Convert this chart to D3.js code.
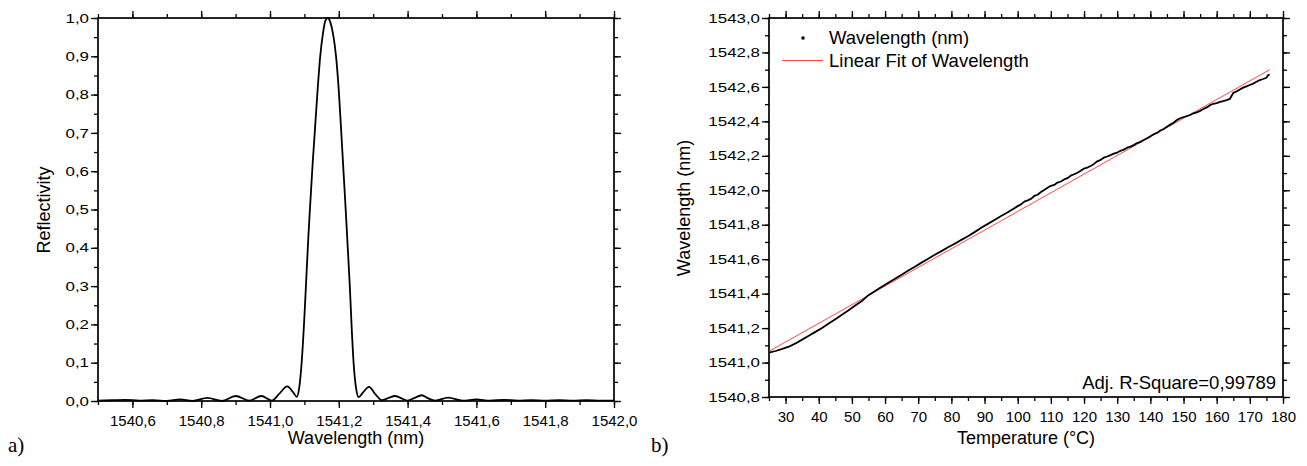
<!DOCTYPE html>
<html>
<head>
<meta charset="utf-8">
<script src="https://cdn.jsdelivr.net/npm/d3@7"></script>
<style>
  body { margin: 0; background: #fff; }
  text { font-family: Arial, "Liberation Sans", sans-serif; fill: #000; }
</style>
</head>
<body>
<script>
// ---- data: a) reflection spectrum ----
var specWl = [1540.50, 1540.54, 1540.58, 1540.62, 1540.66, 1540.70, 1540.738, 1540.775, 1540.818, 1540.86,
  1540.90, 1540.94, 1540.975, 1541.005, 1541.028, 1541.050, 1541.068, 1541.078, 1541.085, 1541.092,
  1541.100, 1541.105, 1541.111, 1541.116, 1541.124, 1541.130, 1541.139, 1541.146, 1541.154, 1541.161,
  1541.168, 1541.175, 1541.183, 1541.192, 1541.200, 1541.206, 1541.213, 1541.220, 1541.226, 1541.232,
  1541.237, 1541.243, 1541.250, 1541.258, 1541.270, 1541.288, 1541.306, 1541.325, 1541.345, 1541.363,
  1541.382, 1541.40, 1541.42, 1541.441, 1541.46, 1541.48, 1541.518, 1541.56, 1541.60, 1541.64,
  1541.68, 1541.72, 1541.76, 1541.80, 1541.84, 1541.88, 1541.92, 1541.96, 1542.00];
var specR = [0.001, 0.002, 0.003, 0.001, 0.002, 0.000, 0.004, 0.000, 0.008, 0.000,
  0.013, 0.001, 0.013, 0.001, 0.020, 0.038, 0.022, 0.011, 0.035, 0.10,
  0.22, 0.31, 0.42, 0.50, 0.62, 0.70, 0.82, 0.90, 0.96, 0.993,
  1.0, 0.99, 0.96, 0.90, 0.81, 0.72, 0.61, 0.50, 0.40, 0.30,
  0.20, 0.10, 0.035, 0.010, 0.022, 0.037, 0.018, 0.002, 0.008, 0.013,
  0.007, 0.001, 0.008, 0.015, 0.007, 0.001, 0.009, 0.001, 0.004, 0.001,
  0.003, 0.001, 0.002, 0.001, 0.002, 0.001, 0.002, 0.001, 0.001];

var aXTicks = [1540.6, 1540.8, 1541.0, 1541.2, 1541.4, 1541.6, 1541.8, 1542.0];
var aYTicks = [0.0, 0.1, 0.2, 0.3, 0.4, 0.5, 0.6, 0.7, 0.8, 0.9, 1.0];

// ---- data: b) peak wavelength vs temperature ----
var tempC = [25, 27, 29, 31, 33, 35, 37, 39, 41, 43, 45, 47, 49, 51, 53, 55, 57, 59, 61, 63,
  65, 67, 69, 71, 73, 75, 77, 79, 81, 83, 85, 87, 89, 91, 93, 95, 97, 99,
  100, 101, 102, 103, 104, 105, 106, 107, 108, 109, 110, 111, 112, 113, 114, 115, 116, 117, 118, 119,
  120, 121, 122, 123, 124, 125, 126, 127, 128, 129, 130, 131, 132, 133, 134, 135, 136, 137, 138, 139,
  140, 141, 142, 143, 144, 145, 146, 147, 148, 149, 150, 151, 152, 153, 154, 155, 156, 157, 158, 159,
  160, 161, 162, 163, 164, 165, 166, 167, 168, 169, 170, 171, 172, 173, 174, 175, 175.5, 176];
var peakWl = [1541.057, 1541.067, 1541.079, 1541.092, 1541.111, 1541.133, 1541.155, 1541.178, 1541.201, 1541.226,
  1541.252, 1541.278, 1541.304, 1541.331, 1541.357, 1541.391, 1541.415, 1541.440, 1541.463, 1541.487,
  1541.510, 1541.534, 1541.556, 1541.580, 1541.602, 1541.626, 1541.647, 1541.669, 1541.690, 1541.712,
  1541.733, 1541.757, 1541.782, 1541.805, 1541.828, 1541.851, 1541.872, 1541.896,
  1541.908, 1541.918, 1541.934, 1541.941, 1541.950, 1541.967, 1541.974, 1541.990, 1542.002, 1542.014,
  1542.026, 1542.031, 1542.045, 1542.051, 1542.063, 1542.070, 1542.085, 1542.093, 1542.102, 1542.113,
  1542.126, 1542.132, 1542.141, 1542.153, 1542.168, 1542.176, 1542.190, 1542.196, 1542.204, 1542.213,
  1542.219, 1542.229, 1542.236, 1542.247, 1542.253, 1542.262, 1542.274, 1542.281, 1542.292, 1542.302,
  1542.313, 1542.325, 1542.333, 1542.347, 1542.356, 1542.369, 1542.381, 1542.392, 1542.408, 1542.418,
  1542.424, 1542.431, 1542.437, 1542.447, 1542.452, 1542.461, 1542.472, 1542.481, 1542.494, 1542.502,
  1542.506, 1542.513, 1542.518, 1542.523, 1542.531, 1542.565, 1542.574, 1542.585, 1542.596, 1542.603,
  1542.611, 1542.619, 1542.630, 1542.640, 1542.646, 1542.653, 1542.668, 1542.672];

// linear fit end points
var fitT = [25, 176];
var fitWl = [1541.065, 1542.700];

var bXTicks = [30, 40, 50, 60, 70, 80, 90, 100, 110, 120, 130, 140, 150, 160, 170, 180];
var bYTicks = [1540.8, 1541.0, 1541.2, 1541.4, 1541.6, 1541.8, 1542.0, 1542.2, 1542.4, 1542.6, 1542.8, 1543.0];

// comma decimal like the original
var fmt1 = d3.formatLocale({decimal: ",", thousands: "", grouping: [3], currency: ["", ""]}).format(".1f");

var svg = d3.select("body").append("svg")
  .attr("width", 1307)
  .attr("height", 466);

svg.append("rect").attr("width", 1307).attr("height", 466).attr("fill", "#fff");

// draws the boxed frame with outward ticks on all four sides
function frame(x, y, xMaj, xMin, yMaj, yMin, xFmt, yFmt) {
  var x0 = x.range()[0], x1 = x.range()[1];
  var y0 = y.range()[1], y1 = y.range()[0];
  var g = svg.append("g");

  function ax(gen, vals, size, tx, ty, labels, fmt) {
    var a = g.append("g")
      .attr("transform", "translate(" + tx + "," + ty + ")")
      .call(gen.tickValues(vals).tickSize(size).tickSizeOuter(0).tickPadding(7)
        .tickFormat(labels ? fmt : ""));
    a.select(".domain").remove();
    a.selectAll("line").attr("stroke", "#000").attr("stroke-width", 1.3);
    return a;
  }

  ax(d3.axisBottom(x), xMin, 4, 0, y1, false);
  ax(d3.axisBottom(x), xMaj, 7, 0, y1, true, xFmt)
    .selectAll("text").style("font-size", "15px");
  ax(d3.axisTop(x), xMin, 4, 0, y0, false);
  ax(d3.axisTop(x), xMaj, 7, 0, y0, false);

  ax(d3.axisLeft(y), yMin, 4, x0, 0, false);
  ax(d3.axisLeft(y), yMaj, 7, x0, 0, true, yFmt)
    .selectAll("text")
      .style("font-size", "13px")
      .attr("x", -9 / 1.3)
      .attr("transform", "scale(1.3,1)");
  ax(d3.axisRight(y), yMin, 4, x1, 0, false);
  ax(d3.axisRight(y), yMaj, 7, x1, 0, false);

  g.append("rect")
    .attr("x", x0).attr("y", y0)
    .attr("width", x1 - x0).attr("height", y1 - y0)
    .attr("fill", "none").attr("stroke", "#000").attr("stroke-width", 1.7);
}

// ===== a) =====
var xa = d3.scaleLinear().domain([1540.5, 1542.0]).range([98, 614]);
var ya = d3.scaleLinear().domain([0, 1]).range([401, 18]);

frame(xa, ya, aXTicks, d3.range(1540.5, 1542.01, 0.1), aYTicks, d3.range(0, 1.001, 0.05), fmt1, fmt1);

var specLine = d3.line()
  .x(function(d, i) { return xa(specWl[i]); })
  .y(function(d) { return ya(d); })
  .curve(d3.curveMonotoneX);

svg.append("path")
  .datum(specR)
  .attr("d", specLine)
  .attr("fill", "none")
  .attr("stroke", "#000")
  .attr("stroke-width", 1.8);

svg.append("text")
  .attr("x", 356).attr("y", 444)
  .attr("text-anchor", "middle")
  .style("font-size", "18px")
  .text("Wavelength (nm)");

svg.append("text")
  .attr("transform", "translate(50,210) rotate(-90)")
  .attr("text-anchor", "middle")
  .style("font-size", "18px")
  .text("Reflectivity");

svg.append("text")
  .attr("x", 8).attr("y", 452)
  .style("font-family", "'Liberation Serif', 'Times New Roman', serif")
  .style("font-size", "21px")
  .text("a)");

// ===== b) =====
var xb = d3.scaleLinear().domain([25, 180]).range([769, 1283]);
var yb = d3.scaleLinear().domain([1540.8, 1543.0]).range([397, 18]);

frame(xb, yb, bXTicks, d3.range(25, 181, 5), bYTicks, d3.range(1540.8, 1543.001, 0.1),
  function(d) { return d; }, fmt1);

var fitLine = d3.line()
  .x(function(d, i) { return xb(fitT[i]); })
  .y(function(d) { return yb(d); });

svg.append("path")
  .datum(fitWl)
  .attr("d", fitLine)
  .attr("fill", "none")
  .attr("stroke", "#ff4a4a")
  .attr("stroke-width", 1);

var dataLine = d3.line()
  .x(function(d, i) { return xb(tempC[i]); })
  .y(function(d) { return yb(d); });

svg.append("path")
  .datum(peakWl)
  .attr("d", dataLine)
  .attr("fill", "none")
  .attr("stroke", "#000")
  .attr("stroke-width", 1.8)
  .attr("stroke-linejoin", "round");

// legend
svg.append("rect")
  .attr("x", 801.5).attr("y", 36.5)
  .attr("width", 3).attr("height", 3)
  .attr("fill", "#000");
svg.append("text")
  .attr("x", 829).attr("y", 44)
  .style("font-size", "18.5px")
  .text("Wavelength (nm)");
svg.append("line")
  .attr("x1", 782).attr("x2", 823)
  .attr("y1", 60.5).attr("y2", 60.5)
  .attr("stroke", "#ff4a4a").attr("stroke-width", 1);
svg.append("text")
  .attr("x", 829).attr("y", 66.5)
  .style("font-size", "18.5px")
  .text("Linear Fit of Wavelength");

svg.append("text")
  .attr("x", 1276).attr("y", 389)
  .attr("text-anchor", "end")
  .style("font-size", "18.5px")
  .text("Adj. R-Square=0,99789");

svg.append("text")
  .attr("x", 1026).attr("y", 444)
  .attr("text-anchor", "middle")
  .style("font-size", "18px")
  .text("Temperature (°C)");

svg.append("text")
  .attr("transform", "translate(690,208) rotate(-90)")
  .attr("text-anchor", "middle")
  .style("font-size", "18px")
  .text("Wavelength (nm)");

svg.append("text")
  .attr("x", 651).attr("y", 452)
  .style("font-family", "'Liberation Serif', 'Times New Roman', serif")
  .style("font-size", "21px")
  .text("b)");
</script>
</body>
</html>
